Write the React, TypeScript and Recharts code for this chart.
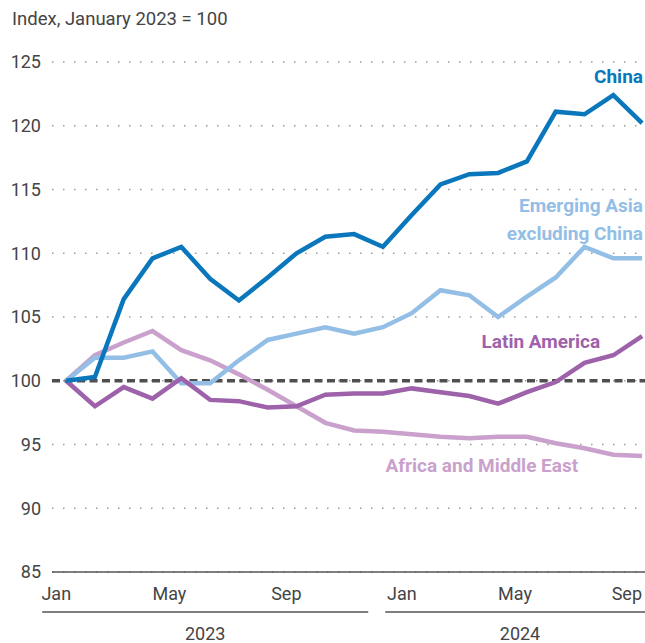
import React from "react";
import {
  LineChart,
  Line,
  XAxis,
  YAxis,
  CartesianGrid,
  ReferenceLine,
  ReferenceDot,
} from "recharts";

const monthLabels = [
  "Jan", "Feb", "Mar", "Apr", "May", "Jun", "Jul", "Aug", "Sep", "Oct", "Nov", "Dec",
  "Jan", "Feb", "Mar", "Apr", "May", "Jun", "Jul", "Aug", "Sep",
];
const china = [100, 100.3, 106.4, 109.6, 110.5, 108.0, 106.3, 108.1, 110.0, 111.3, 111.5, 110.5, 113.0, 115.4, 116.2, 116.3, 117.2, 121.1, 120.9, 122.4, 120.2];
const emergingAsia = [100, 101.8, 101.8, 102.3, 99.8, 99.8, 101.6, 103.2, 103.7, 104.2, 103.7, 104.2, 105.3, 107.1, 106.7, 105.0, 106.6, 108.1, 110.5, 109.6, 109.6];
const latinAmerica = [100, 98.0, 99.5, 98.6, 100.2, 98.5, 98.4, 97.9, 98.0, 98.9, 99.0, 99.0, 99.4, 99.1, 98.8, 98.2, 99.1, 99.9, 101.4, 102.0, 103.5];
const africaME = [100, 102.0, 103.0, 103.9, 102.4, 101.6, 100.5, 99.3, 98.0, 96.7, 96.1, 96.0, 95.8, 95.6, 95.5, 95.6, 95.6, 95.1, 94.7, 94.2, 94.1];

const xTicks = [0, 4, 8, 12, 16, 20];
const yTicks = [85, 90, 95, 100, 105, 110, 115, 120, 125];
const years = [
  { label: "2023", from: -0.83, to: 10.49, mid: 4.83 },
  { label: "2024", from: 11.08, to: 20.2, mid: 15.76 },
];

const data = monthLabels.map((m, i) => ({
  i,
  month: m,
  china: china[i],
  emergingAsia: emergingAsia[i],
  latinAmerica: latinAmerica[i],
  africaME: africaME[i],
}));

const COL_CHINA = "#0a77bd";
const COL_EA = "#93bee6";
const COL_LA = "#9d62a9";
const COL_AF = "#c9a1cc";
const FONT = "Roboto, 'Noto Sans', sans-serif";
const TICK_COLOR = "#444";

const YTick = (props: any) => {
  const { x, y, payload } = props;
  return (
    <text x={x - 2} y={y} dy="0.36em" textAnchor="end" fill={TICK_COLOR} fontSize={18} fontFamily={FONT}>
      {payload.value}
    </text>
  );
};

const XTick = (props: any) => {
  const { x, y, payload } = props;
  return (
    <text x={x + 5} y={y + 7} dy="0.71em" textAnchor="end" fill={TICK_COLOR} fontSize={18} fontFamily={FONT}>
      {monthLabels[payload.value]}
    </text>
  );
};

const makeLabel = (lines: string[], color: string, anchor: string) => (p: any) => (
  <text x={p.cx} y={p.cy} textAnchor={anchor} fill={color} fontSize={19} fontWeight={700} fontFamily={FONT}>
    {lines.map((l, k) => (
      <tspan key={k} x={p.cx} dy={k === 0 ? "0.36em" : 28}>
        {l}
      </tspan>
    ))}
  </text>
);

const yearLabel = (label: string) => (p: any) => (
  <text x={p.cx} y={p.cy} dy="0.36em" textAnchor="middle" fill={TICK_COLOR} fontSize={18} fontFamily={FONT}>
    {label}
  </text>
);

export default function App() {
  return (
    <div style={{ position: "fixed", left: 0, top: 0, width: 645, height: 643, background: "#fff", overflow: "hidden" }}>
      <div style={{ position: "absolute", left: 12, top: 8, fontFamily: FONT, fontSize: 18.5, color: TICK_COLOR, whiteSpace: "nowrap" }}>
        Index, January 2023 = 100
      </div>
      <LineChart width={645} height={643} data={data} margin={{ top: 62, right: 0, bottom: 41, left: 0 }}>
        <CartesianGrid horizontal vertical={false} stroke="#9a9a9a" strokeWidth={1.5} strokeDasharray="1.5 9.5" />
        <XAxis
          dataKey="i"
          type="number"
          domain={[-0.49, 20.1]}
          ticks={xTicks}
          tick={<XTick />}
          tickLine={false}
          axisLine={{ stroke: "#555", strokeWidth: 1.5 }}
          height={30}
          allowDataOverflow
        />
        <YAxis
          domain={[85, 125]}
          ticks={yTicks}
          tick={<YTick />}
          tickLine={false}
          axisLine={false}
          width={52}
          tickMargin={3}
          allowDataOverflow
        />
        <ReferenceLine y={100} stroke="#4f4f4f" strokeWidth={3.5} strokeDasharray="8 4.5" />
        <Line type="linear" dataKey="africaME" stroke={COL_AF} strokeWidth={4.5} dot={false} isAnimationActive={false} />
        <Line type="linear" dataKey="emergingAsia" stroke={COL_EA} strokeWidth={4.5} dot={false} isAnimationActive={false} />
        <Line type="linear" dataKey="latinAmerica" stroke={COL_LA} strokeWidth={4.5} dot={false} isAnimationActive={false} />
        <Line type="linear" dataKey="china" stroke={COL_CHINA} strokeWidth={4.5} dot={false} isAnimationActive={false} />
        <ReferenceDot x={20.03} y={123.9} r={0} ifOverflow="visible" shape={makeLabel(["China"], COL_CHINA, "end")} />
        <ReferenceDot x={20.03} y={113.8} r={0} ifOverflow="visible" shape={makeLabel(["Emerging Asia", "excluding China"], COL_EA, "end")} />
        <ReferenceDot x={18.54} y={103.1} r={0} ifOverflow="visible" shape={makeLabel(["Latin America"], COL_LA, "end")} />
        <ReferenceDot x={17.78} y={93.4} r={0} ifOverflow="visible" shape={makeLabel(["Africa and Middle East"], COL_AF, "end")} />
        {years.map((yr) => (
          <ReferenceLine
            key={yr.label + "l"}
            segment={[{ x: yr.from, y: 81.86 }, { x: yr.to, y: 81.86 }]}
            stroke="#555"
            strokeWidth={1.5}
            ifOverflow="visible"
          />
        ))}
        {years.map((yr) => (
          <ReferenceDot key={yr.label} x={yr.mid} y={80.2} r={0} ifOverflow="visible" shape={yearLabel(yr.label)} />
        ))}
      </LineChart>
    </div>
  );
}
